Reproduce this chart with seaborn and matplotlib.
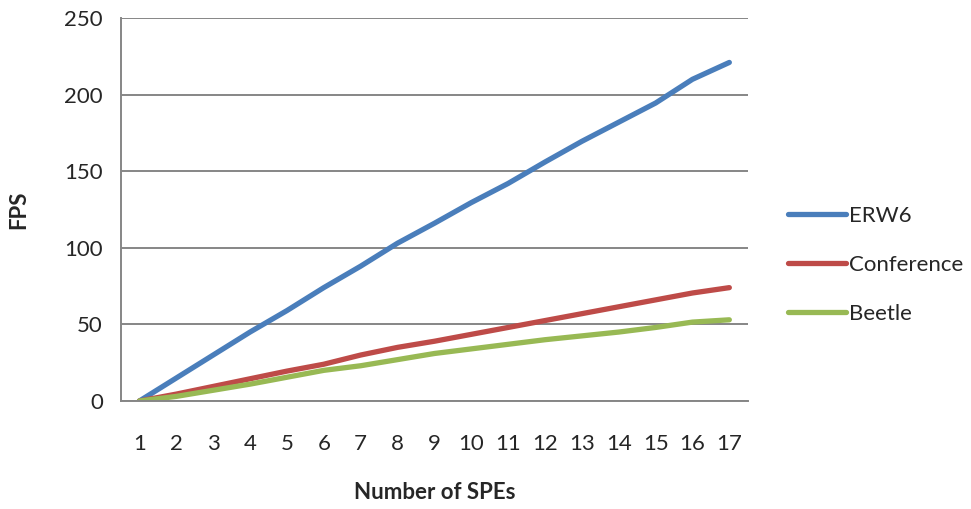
import matplotlib.pyplot as plt
import pandas as pd
import seaborn as sns
import numpy as np

spes = list(range(1, 18))
erw6 = [0, 15, 30, 45, 59, 74, 88, 103, 116, 129.5, 142, 156, 169.5, 182, 194.5, 210, 221]
conference = [0, 4.5, 9.5, 14.5, 19.5, 24, 30, 35, 39, 43.5, 48, 52.5, 57, 61.5, 66, 70.5, 74]
beetle = [0, 3, 7, 11, 15.5, 20, 23, 27, 31, 34, 37, 40, 42.5, 45, 48, 51.5, 53]
series = ['ERW6', 'Conference', 'Beetle']
colors = ['#4A7EBB', '#BE4B48', '#98B954']

df = pd.DataFrame({'SPEs': spes * 3,
                   'FPS': erw6 + conference + beetle,
                   'series': [s for s in series for _ in spes]})

sns.set_style('white')
plt.rcParams['font.family'] = ['Lato', 'DejaVu Sans']

fig = plt.figure(figsize=(9.71, 5.09), dpi=100)
ax = fig.add_axes([0.1246, 0.2122, 0.6455, 0.7524])
sns.lineplot(data=df, x='SPEs', y='FPS', hue='series', palette=colors,
             linewidth=3.8, ax=ax, solid_capstyle='round')

ax.set_xlim(0.5, 17.5)
ax.set_ylim(0, 250)
ax.set_yticks(range(0, 251, 50))
ax.yaxis.grid(True, color='#868686', linewidth=1.4)
ax.set_axisbelow(True)
ax.set_xticks(np.arange(0.5, 18, 1))
ax.set_xticklabels([])
ax.set_xticks(spes, minor=True)
ax.set_xticklabels([str(s) for s in spes], minor=True)
ax.tick_params(axis='x', which='major', direction='out', length=7, width=1.4, color='#868686')
ax.tick_params(axis='x', which='minor', length=0, pad=24, labelsize=16)
ax.tick_params(axis='y', direction='out', length=7, width=1.4, color='#868686', labelsize=16, pad=6)
for side in ['top', 'right']:
    ax.spines[side].set_visible(False)
for side in ['left', 'bottom']:
    ax.spines[side].set_color('#868686')
    ax.spines[side].set_linewidth(1.4)

ax.set_xlabel('Number of SPEs', fontsize=16, fontweight='bold', labelpad=20)
ax.set_ylabel('FPS', fontsize=16, fontweight='bold', labelpad=25)

ax.legend(loc='center left', bbox_to_anchor=(1.032, 0.355), frameon=False,
          fontsize=16, handlelength=2.6, handletextpad=0.15, labelspacing=1.3)

fig.savefig('out.png', dpi=100)
